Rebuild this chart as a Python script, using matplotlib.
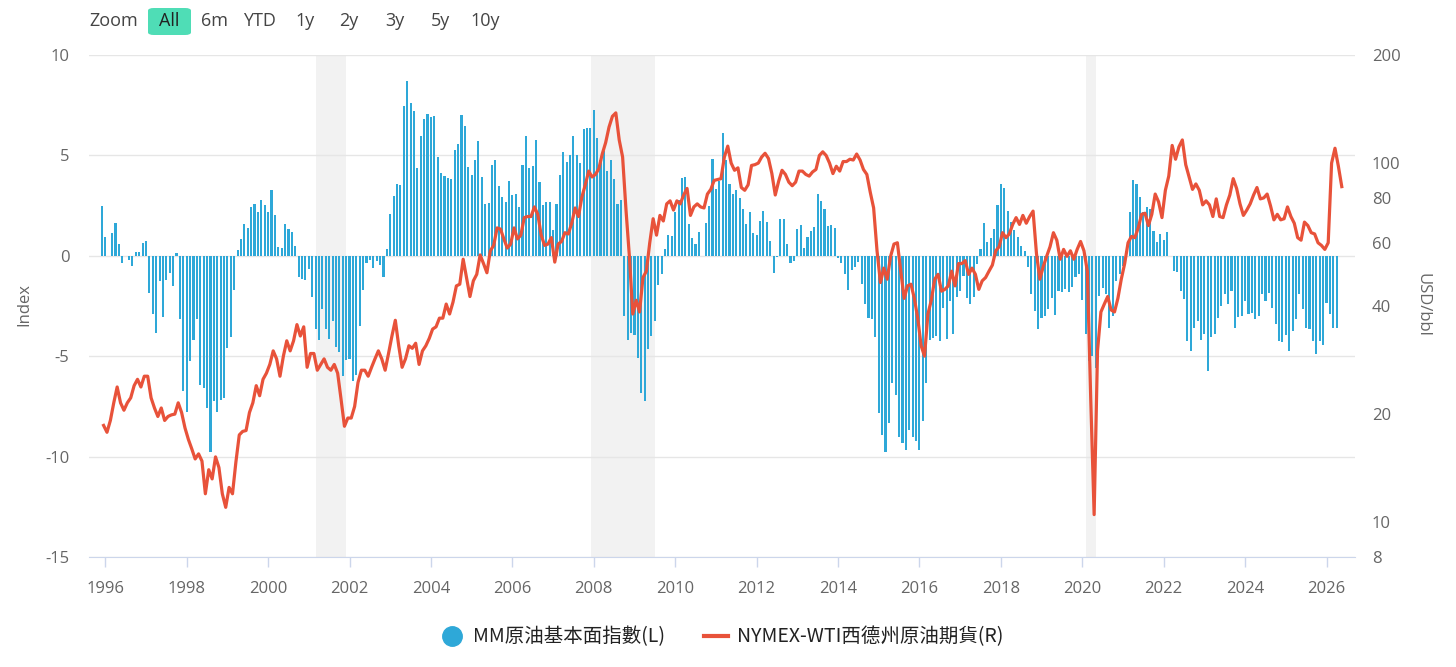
import numpy as np
import matplotlib
matplotlib.use("Agg")
import matplotlib.pyplot as plt
from matplotlib.lines import Line2D
from matplotlib.patches import FancyBboxPatch

plt.rcParams['font.family'] = ['Open Sans', 'Noto Sans CJK TC', 'DejaVu Sans']

# MM crude fundamentals index, monthly, Dec 1995 .. Apr 2026
mm_index = [
    2.5,
    0.92, 0.0, 1.12, 1.62, 0.57, -0.37, 0.0, -0.22, -0.53, 0.18, 0.18, 0.62,          # 1996
    0.75, -1.87, -2.92, -3.83, -1.25, -3.05, -1.2, -0.85, -1.52, 0.12, -3.13, -6.72,  # 1997
    -7.78, -5.22, -4.18, -3.17, -6.42, -6.58, -7.58, -9.78, -7.22, -7.8, -7.2, -7.1,  # 1998
    -4.6, -4.05, -1.7, 0.3, 0.83, 1.6, 1.4, 2.45, 2.6, 2.17, 2.8, 2.53,               # 1999
    2.17, 3.3, 2.03, 0.42, 0.38, 1.6, 1.33, 1.2, 0.5, -1.05, -1.17, -1.22,            # 2000
    -0.67, -2.03, -3.63, -4.17, -2.67, -3.67, -4.13, -3.25, -4.55, -4.8, -6.0, -5.17, # 2001
    -5.13, -6.22, -5.95, -3.5, -1.72, -0.38, -0.2, -0.62, -0.25, -0.45, -1.08, 0.33,  # 2002
    2.08, 3.0, 3.58, 3.53, 7.47, 8.72, 7.62, 7.2, 4.38, 5.97, 6.83, 7.08,             # 2003
    6.92, 6.97, 4.92, 4.13, 3.95, 3.88, 3.8, 5.28, 5.55, 7.0, 6.45, 4.42,             # 2004
    4.0, 4.75, 5.7, 3.92, 2.6, 2.63, 4.5, 4.78, 3.5, 2.95, 2.67, 3.72,                # 2005
    3.05, 3.08, 2.42, 4.5, 5.97, 4.37, 4.45, 5.75, 3.67, 2.55, 2.67, 2.67,            # 2006
    1.3, 2.58, 4.0, 5.17, 4.65, 5.03, 5.97, 5.0, 4.62, 6.33, 6.37, 6.38,              # 2007
    7.25, 5.87, 4.75, 5.22, 4.2, 4.78, 3.8, 2.6, 2.8, -3.0, -4.17, -3.83,             # 2008
    -3.92, -5.08, -6.83, -7.22, -4.62, -4.0, -3.25, -1.45, -0.9, 0.33, 1.03, 1.0,     # 2009
    2.17, 2.78, 3.88, 3.92, 1.58, 0.88, 0.58, 1.17, 0.0, 1.63, 2.5, 4.83,             # 2010
    3.33, 3.75, 6.12, 4.75, 3.58, 3.08, 3.28, 2.88, 2.33, 1.58, 2.17, 1.12,           # 2011
    1.05, 1.75, 2.25, 1.67, 0.75, -0.88, -0.08, 1.83, 1.83, 0.58, -0.38, -0.25,       # 2012
    1.33, 1.55, 0.38, 0.92, 1.25, 1.42, 3.08, 2.75, 2.33, 1.5, 1.55, 1.38,            # 2013
    -0.13, -0.38, -0.92, -1.72, -0.72, -0.58, -0.3, -1.42, -2.38, -3.08, -3.17, -4.05,  # 2014
    -7.83, -8.92, -9.75, -8.33, -6.33, -6.92, -9.0, -9.33, -9.67, -8.67, -9.0, -9.22,   # 2015
    -9.67, -8.25, -6.33, -4.17, -4.08, -4.0, -4.25, -2.62, -4.12, -2.25, -3.88, -2.05,  # 2016
    -1.75, -1.0, -2.12, -2.38, -2.05, -0.42, 0.33, 1.62, 0.67, 0.9, 1.33, 2.55,         # 2017
    3.58, 3.37, 2.22, 1.7, 1.3, 0.92, 0.5, 0.25, -0.58, -1.92, -2.75, -3.67,            # 2018
    -3.12, -3.0, -2.67, -2.12, -2.95, -1.75, -1.78, -1.67, -1.78, -1.55, -1.08, -0.92,  # 2019
    -2.22, -3.9, -5.25, -5.0, -5.58, -2.0, -1.58, -1.9, -3.58, -3.0, -1.25, -0.9,       # 2020
    -0.5, 0.25, 2.17, 3.78, 3.58, 2.92, 2.2, 2.42, 2.33, 1.25, 0.67, 1.08,              # 2021
    0.78, 1.17, 0.0, -0.75, -0.8, -1.75, -2.17, -4.25, -4.75, -3.6, -3.25, -4.17,       # 2022
    -3.9, -5.75, -4.05, -3.88, -3.08, -2.5, -1.92, -2.4, -1.75, -3.58, -3.05, -3.0,     # 2023
    -2.25, -2.92, -2.83, -3.17, -3.0, -1.92, -2.25, -1.83, -2.58, -3.42, -4.25, -4.28,  # 2024
    -3.92, -4.72, -3.75, -3.17, -1.92, -2.67, -3.58, -3.67, -4.25, -4.88, -4.25, -4.42, # 2025
    -2.33, -2.92, -3.58, -3.58,                                                          # 2026
]

# NYMEX WTI front month, USD/bbl, monthly, Dec 1995 .. May 2026
wti_price = [
    18.6,
    17.8, 19.2, 21.5, 23.8, 21.5, 20.5, 21.5, 22.2, 24.0, 25.0, 23.8, 25.5,    # 1996
    25.5, 22.2, 20.8, 19.7, 20.8, 19.2, 19.7, 19.9, 20.0, 21.5, 20.2, 18.3,    # 1997
    17.0, 16.0, 15.0, 15.5, 14.8, 12.0, 14.0, 13.2, 15.2, 14.2, 12.0, 11.0,    # 1998
    12.5, 12.0, 14.7, 17.5, 17.9, 18.0, 20.2, 21.5, 24.0, 22.5, 25.0, 26.0,    # 1999
    27.5, 30.0, 28.5, 25.5, 29.0, 32.0, 30.0, 32.0, 35.5, 33.0, 35.0, 27.0,    # 2000
    29.5, 29.5, 26.5, 27.5, 28.5, 27.0, 26.5, 27.5, 26.0, 22.0, 18.5, 19.5,    # 2001
    19.5, 21.0, 24.5, 26.5, 26.5, 25.5, 27.0, 28.5, 30.0, 28.5, 26.5, 29.5,    # 2002
    33.0, 36.5, 31.0, 27.0, 28.5, 31.0, 30.5, 31.5, 27.5, 30.0, 31.0, 32.5,    # 2003
    34.5, 35.0, 37.0, 37.0, 40.5, 38.0, 41.0, 45.5, 46.0, 54.0, 48.0, 42.5,    # 2004
    47.0, 49.0, 55.5, 52.5, 49.5, 57.0, 59.0, 66.0, 65.5, 61.5, 58.0, 59.5,    # 2005
    66.0, 61.5, 63.0, 70.5, 71.0, 71.0, 75.5, 72.0, 63.0, 59.0, 59.5, 62.0,    # 2006
    53.0, 59.5, 60.5, 64.0, 63.5, 68.0, 75.0, 71.0, 80.5, 87.0, 95.0, 91.5,    # 2007
    93.0, 96.5, 106.0, 114.0, 126.0, 135.0, 138.0, 116.0, 104.0, 74.0, 55.0, 38.0,  # 2008
    41.5, 38.5, 48.0, 50.0, 60.0, 70.0, 63.0, 71.5, 69.0, 77.0, 78.5, 74.0,    # 2009
    78.5, 77.0, 81.5, 85.0, 71.5, 75.5, 77.0, 75.5, 75.0, 82.0, 84.5, 89.5,    # 2010
    90.0, 90.5, 104.0, 111.5, 100.0, 95.5, 97.0, 85.5, 84.0, 87.0, 98.5, 99.0, # 2011
    100.0, 104.0, 106.5, 103.0, 93.5, 81.5, 89.0, 95.5, 93.0, 88.5, 86.5, 88.5,  # 2012
    95.0, 95.0, 93.0, 92.0, 94.5, 96.0, 105.0, 107.5, 105.0, 100.0, 93.5, 98.0,  # 2013
    95.0, 101.0, 101.0, 102.5, 102.0, 106.0, 102.0, 96.0, 93.0, 83.0, 75.0, 57.0,  # 2014
    46.5, 51.0, 47.5, 55.0, 59.5, 60.0, 50.0, 42.0, 45.5, 46.0, 42.0, 37.0,    # 2015
    31.0, 29.0, 38.0, 41.5, 47.5, 49.0, 44.0, 44.5, 45.5, 50.0, 45.5, 52.5,    # 2016
    52.5, 53.5, 49.0, 51.0, 49.0, 44.5, 47.0, 48.0, 50.0, 52.0, 57.0, 58.5,    # 2017
    64.0, 62.0, 63.5, 67.5, 70.5, 67.5, 71.5, 68.0, 71.0, 73.5, 56.0, 47.5,    # 2018
    51.5, 55.0, 58.5, 64.0, 61.0, 54.0, 57.5, 55.0, 57.0, 54.0, 57.5, 60.5,    # 2019
    57.0, 50.0, 22.0, 10.5, 30.0, 38.5, 40.5, 42.5, 39.0, 38.5, 42.0, 47.5,    # 2020
    52.5, 60.0, 62.5, 62.0, 66.0, 72.0, 72.5, 67.0, 72.0, 82.0, 78.0, 70.5,    # 2021
    84.0, 92.0, 112.0, 102.5, 111.0, 116.0, 99.0, 91.5, 84.5, 87.5, 84.0, 76.5,  # 2022
    78.5, 76.5, 71.0, 79.5, 71.0, 70.5, 76.5, 81.5, 90.5, 85.0, 77.0, 71.5,    # 2023
    74.0, 77.0, 81.5, 85.5, 79.5, 80.0, 82.0, 76.0, 69.5, 72.0, 69.5, 70.0,    # 2024
    75.5, 71.0, 68.0, 62.0, 61.0, 68.5, 67.0, 64.0, 63.5, 60.0, 59.0, 57.5,    # 2025
    60.0, 100.0, 110.0, 98.0, 86.0,                                             # 2026
]

# US recessions (decimal years)
recession_start = [2001.17, 2007.92, 2020.08]
recession_end = [2001.92, 2009.50, 2020.33]

year_ticks = list(range(1996, 2027, 2))
index_ticks = [-15, -10, -5, 0, 5, 10]
price_ticks = [8, 10, 20, 40, 60, 80, 100, 200]
zoom_buttons = ['6m', 'YTD', '1y', '2y', '3y', '5y', '10y']

bar_color = '#2ea8d8'
line_color = '#e8523a'
label_color = '#666666'

t_mm = 1995 + 11 / 12 + np.arange(len(mm_index)) / 12
t_wti = 1995 + 11 / 12 + (np.arange(len(wti_price)) + 0.5) / 12

W, H = 1456, 667
fig = plt.figure(figsize=(W / 100, H / 100), dpi=100)
ax = fig.add_axes([89 / W, 1 - 557 / H, (1355 - 89) / W, (557 - 55) / H])

for s, e in zip(recession_start, recession_end):
    ax.axvspan(s, e, color='#f2f2f2', zorder=0, lw=0)

ax.bar(t_mm, mm_index, width=0.052, color=bar_color, zorder=2, linewidth=0)

ax.set_xlim(1995.6, 2026.7)
ax.set_ylim(-15, 10)
ax.set_yticks(index_ticks)
ax.set_yticklabels([str(v) for v in index_ticks])
ax.yaxis.grid(True, color='#e6e6e6', lw=1)
ax.set_axisbelow(True)
ax.set_xticks(year_ticks)
ax.set_xticklabels([str(y) for y in year_ticks])
ax.tick_params(axis='x', length=7, width=1, color='#ccd6eb', pad=10, labelsize=12, labelcolor=label_color)
ax.tick_params(axis='y', length=0, pad=14, labelsize=12, labelcolor=label_color)
for side in ['left', 'right', 'top']:
    ax.spines[side].set_visible(False)
ax.spines['bottom'].set_color('#ccd6eb')

ax2 = ax.twinx()
ax2.plot(t_wti, wti_price, color=line_color, lw=2.3, zorder=3, solid_joinstyle='round')
ax2.set_yscale('log')
ax2.set_ylim(8, 200)
ax2.set_yticks(price_ticks)
ax2.set_yticklabels([str(v) for v in price_ticks])
ax2.yaxis.set_minor_locator(matplotlib.ticker.NullLocator())
ax2.tick_params(axis='y', length=0, pad=12, labelsize=12, labelcolor=label_color)
for side in ['left', 'right', 'top', 'bottom']:
    ax2.spines[side].set_visible(False)

fig.text(24 / W, 1 - 305 / H, 'Index', rotation=90, ha='center', va='center', fontsize=12, color=label_color)
fig.text(1423 / W, 1 - 305 / H, 'USD/bbl', rotation=270, ha='center', va='center', fontsize=12, color=label_color)

# range selector row
fig.text(89 / W, 1 - 21 / H, 'Zoom', ha='left', va='center', fontsize=13, color='#444444')
fig.patches.append(FancyBboxPatch((148 / W, 1 - 35 / H), 43 / W, 27 / H,
                                  boxstyle='round,pad=0,rounding_size=0.004',
                                  transform=fig.transFigure, facecolor='#4fddb6', edgecolor='none'))
fig.text(169.5 / W, 1 - 21 / H, 'All', ha='center', va='center', fontsize=13, color='#222222')
for lbl, xc in zip(zoom_buttons, [214, 259, 305, 349, 395, 440, 485]):
    fig.text(xc / W, 1 - 21 / H, lbl, ha='center', va='center', fontsize=13, color='#444444')

handles = [
    Line2D([], [], marker='o', linestyle='none', markersize=14, color=bar_color),
    Line2D([], [], color=line_color, lw=3),
]
labels = ['MM原油基本面指數(L)', 'NYMEX-WTI西德州原油期貨(R)']
leg = fig.legend(handles, labels, loc='center', bbox_to_anchor=(722 / W, 1 - 637 / H), ncol=2,
                 frameon=False, handlelength=1.2, handletextpad=0.5, columnspacing=2.0,
                 prop={'family': ['Noto Sans CJK TC'], 'size': 14})
for txt in leg.get_texts():
    txt.set_color('#222222')

fig.savefig('out.png', dpi=100)
